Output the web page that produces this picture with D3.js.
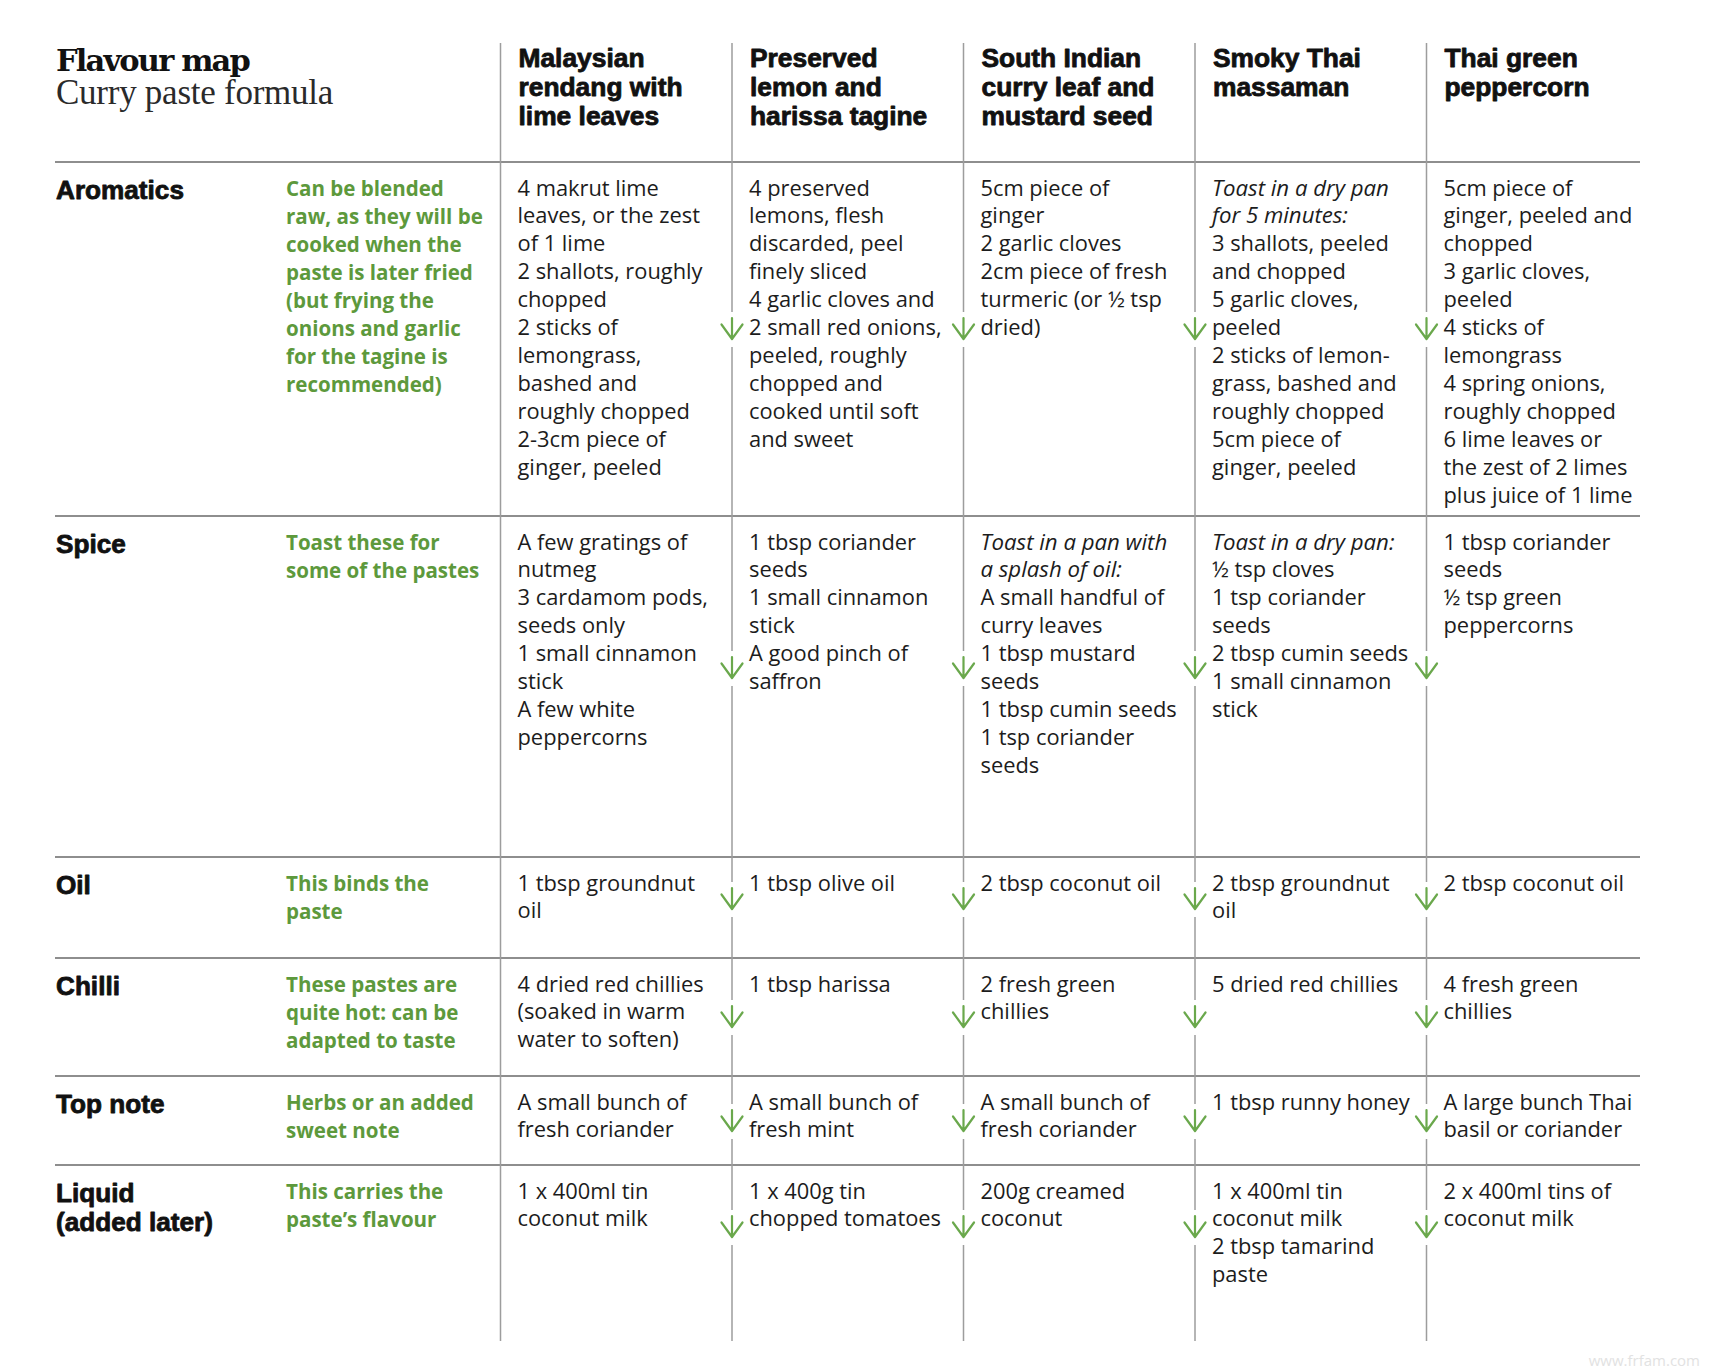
<!DOCTYPE html>
<html><head><meta charset="utf-8">
<script src="https://cdn.jsdelivr.net/npm/d3@7"></script>
<style>html,body{margin:0;padding:0;background:#fff;} svg{display:block}</style>
</head><body>
<svg id="chart" width="1720" height="1372"></svg>
<script>
// ---------- data ----------
const title = "Flavour map";
const subtitle = "Curry paste formula";
const watermark = "www.frfam.com";

const recipes = [
  ["Malaysian", "rendang with", "lime leaves"],
  ["Preserved", "lemon and", "harissa tagine"],
  ["South Indian", "curry leaf and", "mustard seed"],
  ["Smoky Thai", "massaman"],
  ["Thai green", "peppercorn"]
];

const components = [
  ["Aromatics"], ["Spice"], ["Oil"], ["Chilli"], ["Top note"], ["Liquid", "(added later)"]
];

const notes = [
  ["Can be blended", "raw, as they will be", "cooked when the", "paste is later fried", "(but frying the", "onions and garlic", "for the tagine is", "recommended)"],
  ["Toast these for", "some of the pastes"],
  ["This binds the", "paste"],
  ["These pastes are", "quite hot: can be", "adapted to taste"],
  ["Herbs or an added", "sweet note"],
  ["This carries the", "paste\u2019s flavour"]
];

// lines starting with "*" are set in italics
const aromatics = [
  ["4 makrut lime", "leaves, or the zest", "of 1 lime", "2 shallots, roughly", "chopped", "2 sticks of", "lemongrass,", "bashed and", "roughly chopped", "2-3cm piece of", "ginger, peeled"],
  ["4 preserved", "lemons, flesh", "discarded, peel", "finely sliced", "4 garlic cloves and", "2 small red onions,", "peeled, roughly", "chopped and", "cooked until soft", "and sweet"],
  ["5cm piece of", "ginger", "2 garlic cloves", "2cm piece of fresh", "turmeric (or \u00bd tsp", "dried)"],
  ["*Toast in a dry pan", "*for 5 minutes:", "3 shallots, peeled", "and chopped", "5 garlic cloves,", "peeled", "2 sticks of lemon-", "grass, bashed and", "roughly chopped", "5cm piece of", "ginger, peeled"],
  ["5cm piece of", "ginger, peeled and", "chopped", "3 garlic cloves,", "peeled", "4 sticks of", "lemongrass", "4 spring onions,", "roughly chopped", "6 lime leaves or", "the zest of 2 limes", "plus juice of 1 lime"]
];
const spice = [
  ["A few gratings of", "nutmeg", "3 cardamom pods,", "seeds only", "1 small cinnamon", "stick", "A few white", "peppercorns"],
  ["1 tbsp coriander", "seeds", "1 small cinnamon", "stick", "A good pinch of", "saffron"],
  ["*Toast in a pan with", "*a splash of oil:", "A small handful of", "curry leaves", "1 tbsp mustard", "seeds", "1 tbsp cumin seeds", "1 tsp coriander", "seeds"],
  ["*Toast in a dry pan:", "\u00bd tsp cloves", "1 tsp coriander", "seeds", "2 tbsp cumin seeds", "1 small cinnamon", "stick"],
  ["1 tbsp coriander", "seeds", "\u00bd tsp green", "peppercorns"]
];
const oil = [
  ["1 tbsp groundnut", "oil"],
  ["1 tbsp olive oil"],
  ["2 tbsp coconut oil"],
  ["2 tbsp groundnut", "oil"],
  ["2 tbsp coconut oil"]
];
const chilli = [
  ["4 dried red chillies", "(soaked in warm", "water to soften)"],
  ["1 tbsp harissa"],
  ["2 fresh green", "chillies"],
  ["5 dried red chillies"],
  ["4 fresh green", "chillies"]
];
const topNote = [
  ["A small bunch of", "fresh coriander"],
  ["A small bunch of", "fresh mint"],
  ["A small bunch of", "fresh coriander"],
  ["1 tbsp runny honey"],
  ["A large bunch Thai", "basil or coriander"]
];
const liquid = [
  ["1 x 400ml tin", "coconut milk"],
  ["1 x 400g tin", "chopped tomatoes"],
  ["200g creamed", "coconut"],
  ["1 x 400ml tin", "coconut milk", "2 tbsp tamarind", "paste"],
  ["2 x 400ml tins of", "coconut milk"]
];
const cells = [aromatics, spice, oil, chilli, topNote, liquid];

// ---------- layout ----------
const layout = {
  left: 56, right: 1640, lineTop: 43, lineBottom: 1341,
  firstCol: 500.5, colStep: 231.5,
  rowTops: [162, 516, 857, 958, 1076, 1165],
  arrowTip: [177, 162, 52, 69, 55, 72],
  noteX: 286, textPad: 17, lineH: 28, headLineH: 29, rowHeadLineH: 28.8
};
const C = { ink: "#1c1c1c", green: "#5d993c", arrow: "#6aa84c", rule: "#8e8e8e", vrule: "#9d9d9d" };

const styles = {
  title:    { family: "'DejaVu Serif', serif", weight: 700, size: 30.5, style: "normal", fill: "#111" },
  subtitle: { family: "'Liberation Serif', serif", weight: 400, size: 35, style: "normal", fill: "#2a2a2a" },
  colHead:  { family: "'Liberation Sans', Arial, sans-serif", weight: 700, size: 25.2, style: "normal", fill: "#111", stroke: 0.8 },
  rowHead:  { family: "'Liberation Sans', Arial, sans-serif", weight: 700, size: 25.6, style: "normal", fill: "#111", stroke: 0.8 },
  note:     { family: "'Open Sans', sans-serif", weight: 700, size: 22, style: "normal", fill: C.green },
  body:     { family: "'Open Sans', sans-serif", weight: 400, size: 21, style: "normal", fill: C.ink },
  italic:   { family: "'Open Sans', sans-serif", weight: 400, size: 21, style: "italic", fill: C.ink }
};

const svg = d3.select("#chart");

function applyStyle(sel, s) {
  sel.attr("font-family", s.family).attr("font-weight", s.weight)
     .attr("font-size", s.size).attr("font-style", s.style).attr("fill", s.fill);
  if (s.stroke) sel.attr("stroke", s.fill).attr("stroke-width", s.stroke).attr("stroke-linejoin", "round");
}
function measure(s, sample) {
  const t = svg.append("text").call(applyStyle, s).text(sample);
  const w = t.node().getComputedTextLength();
  t.remove();
  return w;
}
function fit(s, sample, target) {
  const w = measure(s, sample);
  return w > 0 ? target / w : 1;
}

function draw() {
  const sx = {
    colHead: fit(styles.colHead, "rendang with", 164),
    rowHead: fit(styles.rowHead, "Aromatics", 128),
    note: fit(styles.note, "raw, as they will be", 197),
    body: fit(styles.body, "ginger, peeled and", 189),
    italic: fit(styles.italic, "Toast in a dry pan", 177)
  };
  function block(g, x, y, lines, key, lh) {
    const t = g.append("text")
      .attr("transform", `translate(${x},${y}) scale(${sx[key]},1)`)
      .call(applyStyle, styles[key]);
    lines.forEach((l, k) => {
      const it = l.startsWith("*");
      const ts = t.append("tspan").attr("x", 0).attr("y", k * lh).text(it ? l.slice(1) : l);
      if (it) ts.attr("font-style", "italic").attr("font-size", styles.italic.size * sx.italic / sx[key]);
    });
  }

  const compNames = components.map(d => d.join(" "));
  const x = d3.scaleLinear().domain([0, 1]).range([layout.firstCol, layout.firstCol + layout.colStep]);
  const y = d3.scaleOrdinal().domain(compNames).range(layout.rowTops);

  const gridG = svg.append("g");
  gridG.selectAll("line.h").data(compNames).join("line")
    .attr("x1", layout.left - 1).attr("x2", layout.right)
    .attr("y1", d => y(d)).attr("y2", d => y(d))
    .attr("stroke", C.rule).attr("stroke-width", 2);
  gridG.selectAll("line.v").data(recipes).join("line")
    .attr("x1", (d, i) => x(i)).attr("x2", (d, i) => x(i))
    .attr("y1", layout.lineTop).attr("y2", layout.lineBottom)
    .attr("stroke", C.vrule).attr("stroke-width", 1.5);

  const arrowG = svg.append("g");
  compNames.forEach((name, r) => {
    const tip = y(name) + layout.arrowTip[r];
    for (let i = 1; i < recipes.length; i++) {
      const ax = x(i);
      arrowG.append("rect").attr("x", ax - 3).attr("y", tip - 27).attr("width", 6).attr("height", 35).attr("fill", "#fff");
      arrowG.append("path")
        .attr("d", `M${ax},${tip - 21}L${ax},${tip}M${ax - 10.5},${tip - 14.5}L${ax},${tip}L${ax + 10.5},${tip - 14.5}`)
        .attr("fill", "none").attr("stroke", C.arrow).attr("stroke-width", 2.2)
        .attr("stroke-linecap", "round").attr("stroke-linejoin", "round");
    }
  });

  const tg = svg.append("g");
  const tW = measure(styles.title, title), sW = measure(styles.subtitle, subtitle);
  const head = tg.append("text").attr("x", layout.left).attr("y", 71);
  head.append("tspan").call(applyStyle, styles.title)
    .attr("letter-spacing", (193 - tW) / title.length).text(title);
  head.append("tspan").call(applyStyle, styles.subtitle)
    .attr("x", layout.left).attr("y", 104)
    .attr("letter-spacing", (277 - sW) / subtitle.length).text(subtitle);

  recipes.forEach((lines, i) => block(tg, x(i) + layout.textPad + 1, 67, lines, "colHead", layout.headLineH));

  compNames.forEach((name, r) => {
    const top = y(name);
    block(tg, layout.left, top + 37, components[r], "rowHead", layout.rowHeadLineH);
    block(tg, layout.noteX, top + 34, notes[r], "note", layout.lineH);
    cells[r].forEach((cell, i) => block(tg, x(i) + layout.textPad, top + 33.5, cell, "body", layout.lineH));
  });

  svg.append("text").attr("x", 1700).attr("y", 1366).attr("text-anchor", "end")
    .attr("font-family", "'Open Sans', sans-serif").attr("font-size", 15).attr("fill", "#e2e2e2")
    .text(watermark);
}

if (document.fonts && document.fonts.ready) document.fonts.ready.then(draw); else draw();
</script>
</body></html>
